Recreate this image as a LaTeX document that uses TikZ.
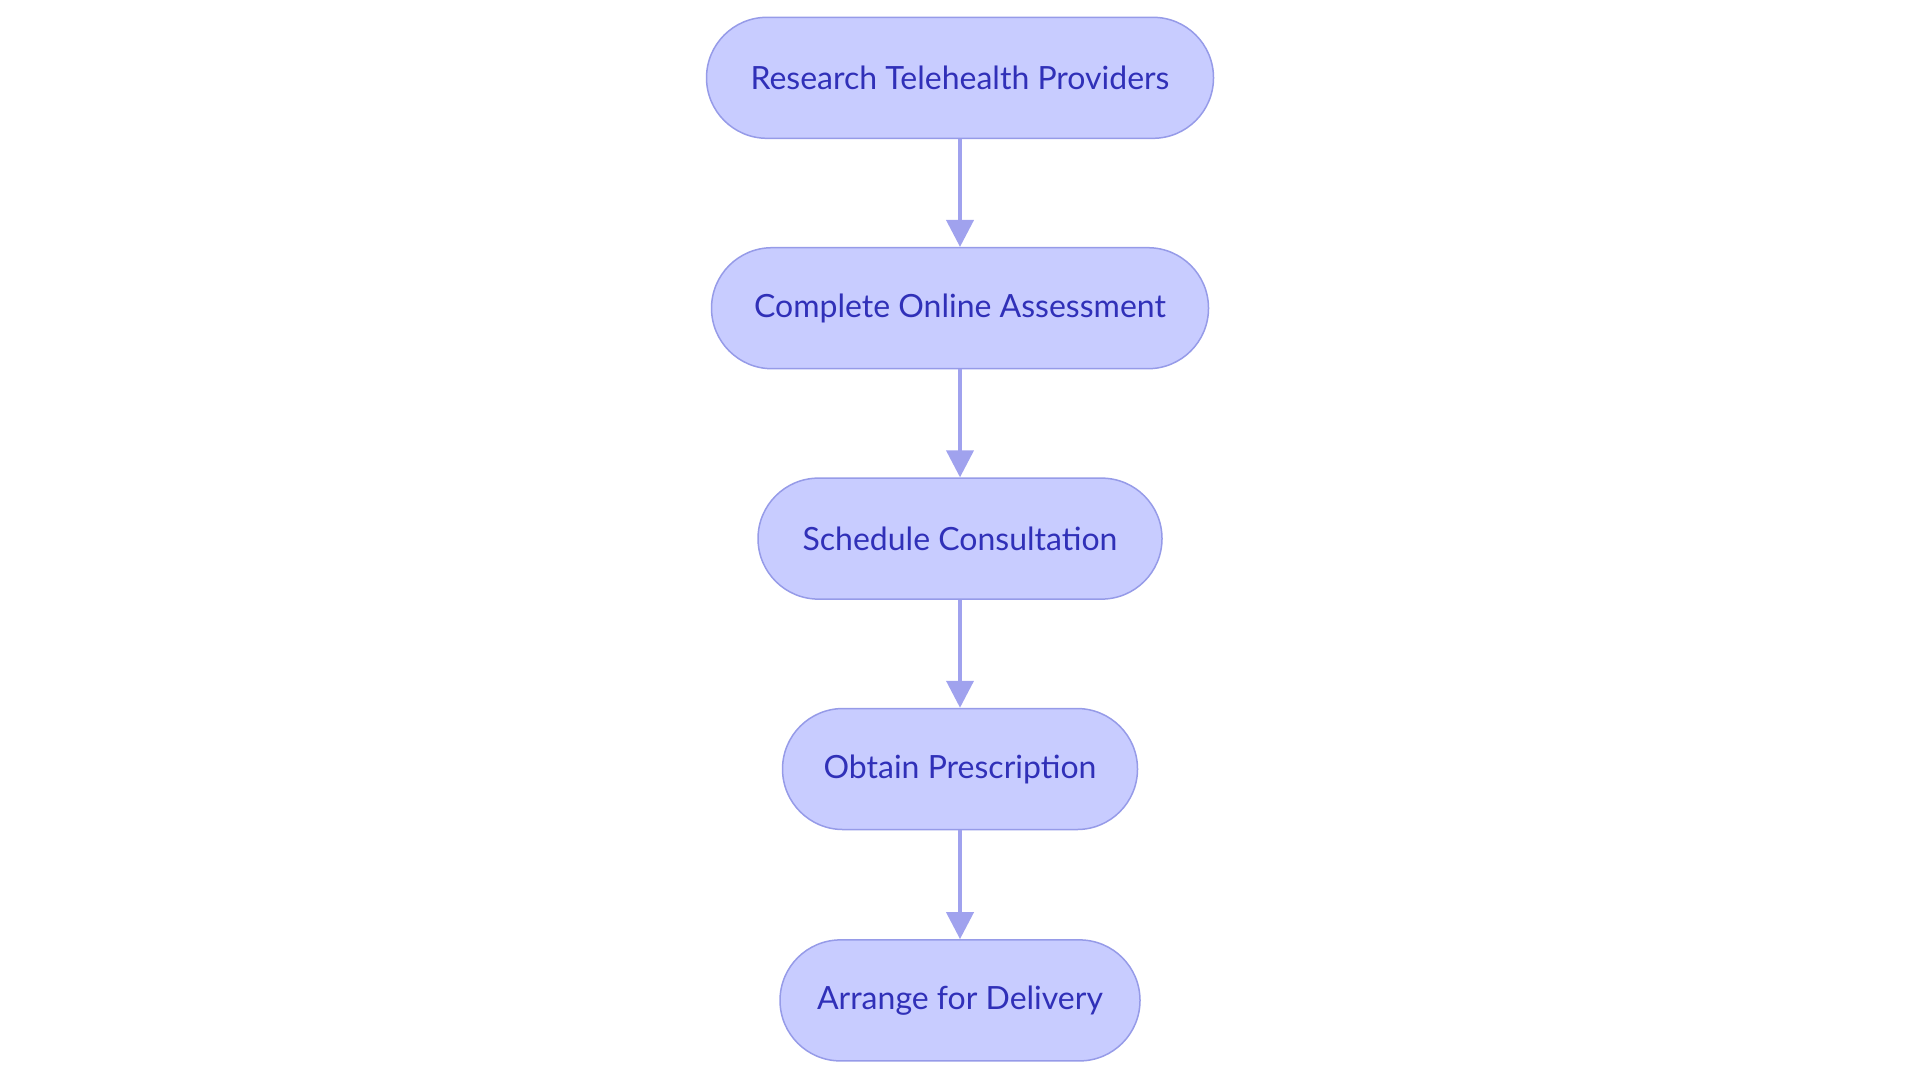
\documentclass[tikz,border=0pt]{standalone}
\usepackage{fontspec}
\setmainfont{Lato}
\usetikzlibrary{arrows.meta}
\definecolor{nodefill}{RGB}{200,204,255}
\definecolor{nodeline}{RGB}{150,155,232}
\definecolor{arrowc}{RGB}{160,162,238}
\definecolor{textc}{RGB}{48,48,184}
\tikzset{
  stepbox/.style={draw=nodeline, fill=nodefill, line width=0.75pt,
    rounded corners=30.25pt, minimum height=60.5pt, inner sep=0pt,
    text=textc, font=\fontsize{16}{19}\selectfont},
  flow/.style={draw=arrowc, line width=2pt,
    -{Triangle[length=13.5pt,width=13.5pt]}}
}
\begin{document}
\begin{tikzpicture}[x=1pt,y=1pt]
\useasboundingbox (0,0) rectangle (960,-541.5);
\node[stepbox, minimum width=253.5pt] (a) at (480,-38.9) {Research Telehealth Providers};
\node[stepbox, minimum width=248.5pt] (b) at (480,-154.1) {Complete Online Assessment};
\node[stepbox, minimum width=202pt] (c) at (480,-269.3) {Schedule Consultation};
\node[stepbox, minimum width=177.5pt] (d) at (480,-384.5) {Obtain Prescription};
\node[stepbox, minimum width=180pt] (e) at (480,-500.2) {Arrange for Delivery};
\draw[flow] (a) -- (b);
\draw[flow] (b) -- (c);
\draw[flow] (c) -- (d);
\draw[flow] (d) -- (e);
\end{tikzpicture}
\end{document}
